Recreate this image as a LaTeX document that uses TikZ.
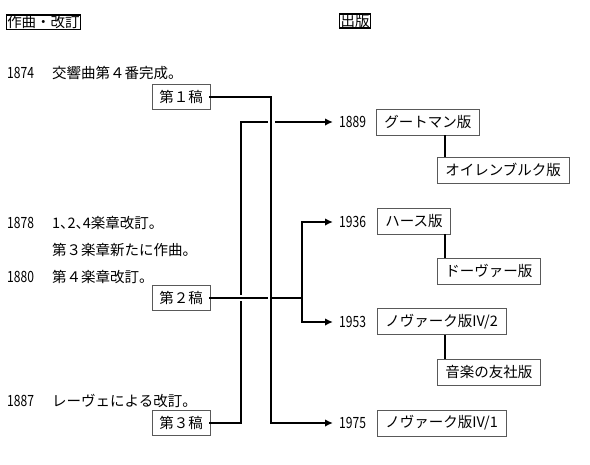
\documentclass[tikz,border=0pt]{standalone}
\usepackage{fontspec}
\usepackage{graphicx}
\setmainfont{Noto Sans CJK JP}
\newfontfamily\halffont[RawFeature=+halt]{Noto Sans CJK JP}
\newcommand{\narrowdigits}[1]{\scalebox{0.78}[1]{\fontsize{15.5}{16}\selectfont #1}}
\usetikzlibrary{arrows.meta}
\begin{document}
\begin{tikzpicture}[x=1pt,y=-1pt,
  every node/.style={font=\fontsize{14.5}{16}\selectfont},
  hdr/.style={draw=black,line width=1.4pt,inner xsep=1pt,inner ysep=0.5pt},
  pbox/.style={draw=black!65,line width=0.7pt,inner xsep=8pt,minimum height=26pt,anchor=west},
  draft/.style={draw=black!65,line width=0.7pt,minimum width=58pt,minimum height=25pt},
  txt/.style={anchor=west,inner sep=0pt},
  yr/.style={anchor=west,inner sep=0pt},
  conn/.style={line width=2.8pt,line cap=rect},
  arr/.style={line width=2.8pt,-{Latex[length=8pt,width=7.5pt]}},
  sub/.style={line width=1.5pt}]
\useasboundingbox (0,0) rectangle (590,464);
\fill[white] (0,0) rectangle (590,464);
% headers
\node[hdr] (hl) at (43.5,22) {作曲・改訂};
\node[hdr] (hr) at (355,21) {出版};
% left texts
\node[txt] (y1874) at (7,73) {\narrowdigits{1874}};
\node[txt] (e1874) at (52,73) {交響曲第４番完成。};
\node[txt] (y1878) at (7,223) {\narrowdigits{1878}};
\node[txt] (e1878) at (52,223) {\halffont 1、2、4楽章改訂。};
\node[txt] (e1878b) at (52,250) {第３楽章新たに作曲。};
\node[txt] (y1880) at (7,277) {\narrowdigits{1880}};
\node[txt] (e1880) at (52,277) {第４楽章改訂。};
\node[txt] (y1887) at (7,401) {\narrowdigits{1887}};
\node[txt] (e1887) at (52,401) {レーヴェによる改訂。};
% drafts
\node[draft] (d1) at (181,97) {第１稿};
\node[draft] (d2) at (181,298) {第２稿};
\node[draft] (d3) at (181,423) {第３稿};
% publications
\node[yr] (p1889) at (339,122) {\narrowdigits{1889}};
\node[pbox] (b1889) at (376,122) {グートマン版};
\node[pbox] (s1889) at (437,170) {オイレンブルク版};
\node[yr] (p1936) at (339,222) {\narrowdigits{1936}};
\node[pbox] (b1936) at (377,221) {ハース版};
\node[pbox] (s1936) at (437,271) {ドーヴァー版};
\node[yr] (p1953) at (339,322) {\narrowdigits{1953}};
\node[pbox] (b1953) at (377,321.5) {ノヴァーク版IV/2};
\node[pbox] (s1953) at (437,372) {音楽の友社版};
\node[yr] (p1975) at (339,423) {\narrowdigits{1975}};
\node[pbox] (b1975) at (377,423) {ノヴァーク版IV/1};
% junction coordinates
\coordinate (v1) at (271,97);
\coordinate (v1b) at (271,423);
\coordinate (v3) at (241,423);
\coordinate (v3a) at (241,302);
\coordinate (v3b) at (241,294);
\coordinate (h3a) at (267,122);
\coordinate (h3b) at (275,122);
\coordinate (h2a) at (267,298);
\coordinate (h2b) at (271,298);
\coordinate (j2) at (302,298);
\coordinate (j2u) at (302,222);
\coordinate (j2d) at (302,322);
% draft 1 -> 1975
\draw[conn] (d1.east) -- (v1) -- (v1b);
\draw[arr] (v1b) -- ([xshift=-6pt]p1975.west);
% draft 3 -> 1889
\draw[conn] (d3.east) -- (v3) -- (v3a);
\draw[conn] (v3b) |- (h3a);
\draw[arr] (h3b) -- ([xshift=-6pt]p1889.west);
% draft 2 -> 1936, 1953
\draw[conn] (d2.east) -- (h2a);
\draw[conn] (h2b) -- (j2);
\draw[conn] (j2u) -- (j2d);
\draw[arr] (j2u) -- ([xshift=-6pt]p1936.west);
\draw[arr] (j2d) -- ([xshift=-6pt]p1953.west);
% sub connectors
\draw[sub] ([xshift=8pt]s1889.north west) -- ([xshift=8pt]s1889.north west |- b1889.south);
\draw[sub] ([xshift=8pt]s1936.north west) -- ([xshift=8pt]s1936.north west |- b1936.south);
\draw[sub] ([xshift=8pt]s1953.north west) -- ([xshift=8pt]s1953.north west |- b1953.south);
\end{tikzpicture}
\end{document}
